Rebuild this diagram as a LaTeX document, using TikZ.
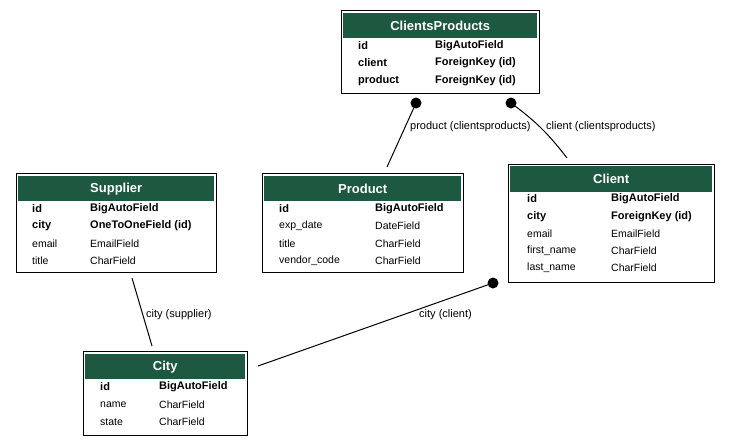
\documentclass[tikz,border=0pt]{standalone}
\usepackage{fontspec}
\setmainfont{Liberation Sans}
\usepackage{tikz}
\usetikzlibrary{
    arrows.meta,
    positioning,
    calc
}
\definecolor{headgreen}{RGB}{29,88,64}

\begin{document}
\begin{tikzpicture}[
    x=1pt,y=-1pt,
    font=\fontsize{10.5}{12}\selectfont,
    table/.style={draw=black,line width=1.2pt,fill=white,anchor=north west,inner sep=0pt},
    head/.style={fill=headgreen,text=white,anchor=north west,inner sep=0pt,font=\fontsize{13}{15}\selectfont\bfseries},
    field/.style={anchor=west,inner sep=0pt},
    key/.style={field,font=\fontsize{11}{13}\selectfont\bfseries},
    dot/.style={circle,fill=black,minimum size=11pt,inner sep=0pt},
    link/.style={line width=1pt},
    link label/.style={anchor=west,inner sep=0pt,font=\fontsize{11}{13}\selectfont}
]
    \useasboundingbox (0,0) rectangle (731,445);

    % ClientsProducts
    \node[table,minimum width=198pt,minimum height=83pt] (cp) at (341,10) {};
    \node[head,minimum width=194pt,minimum height=25pt] (cphead) at (343,13) {ClientsProducts};
    \node[key] (cpid) at (358,46) {id};
    \node[key] (cpidt) at (435,46) {BigAutoField};
    \node[key] (cpcl) at (358,63) {client};
    \node[key] (cpclt) at (435,63) {ForeignKey (id)};
    \node[key] (cppr) at (358,81) {product};
    \node[key] (cpprt) at (435,81) {ForeignKey (id)};

    % Supplier
    \node[table,minimum width=200pt,minimum height=99pt] (supplier) at (16,173) {};
    \node[head,minimum width=196pt,minimum height=25pt] (suphead) at (18,176) {Supplier};
    \node[key] (supid) at (32,209) {id};
    \node[key] (supidt) at (90,209) {BigAutoField};
    \node[key] (supcity) at (32,226) {city};
    \node[key] (supcityt) at (90,226) {OneToOneField (id)};
    \node[field] (supmail) at (32,244) {email};
    \node[field] (supmailt) at (90,244) {EmailField};
    \node[field] (suptitle) at (32,261) {title};
    \node[field] (suptitlet) at (90,261) {CharField};

    % Product
    \node[table,minimum width=201pt,minimum height=99pt] (product) at (262,173) {};
    \node[head,minimum width=197pt,minimum height=25pt] (prodhead) at (264,176) {Product};
    \node[key] (prodid) at (279,209) {id};
    \node[key] (prodidt) at (375,209) {BigAutoField};
    \node[field] (prodexp) at (279,226) {exp\_date};
    \node[field] (prodexpt) at (375,226) {DateField};
    \node[field] (prodtitle) at (279,244) {title};
    \node[field] (prodtitlet) at (375,244) {CharField};
    \node[field] (prodvc) at (279,261) {vendor\_code};
    \node[field] (prodvct) at (375,261) {CharField};

    % Client
    \node[table,minimum width=206pt,minimum height=118pt] (client) at (508,164) {};
    \node[head,minimum width=202pt,minimum height=26pt] (clhead) at (510,166) {Client};
    \node[key] (clid) at (527,199) {id};
    \node[key] (clidt) at (611,199) {BigAutoField};
    \node[key] (clcity) at (527,217) {city};
    \node[key] (clcityt) at (611,217) {ForeignKey (id)};
    \node[field] (clmail) at (527,234) {email};
    \node[field] (clmailt) at (611,234) {EmailField};
    \node[field] (clfirst) at (527,251) {first\_name};
    \node[field] (clfirstt) at (611,251) {CharField};
    \node[field] (cllast) at (527,268) {last\_name};
    \node[field] (cllastt) at (611,268) {CharField};

    % City
    \node[table,minimum width=164pt,minimum height=84pt] (city) at (83,351) {};
    \node[head,minimum width=160pt,minimum height=25pt] (cityhead) at (85,354) {City};
    \node[key] (cityid) at (100,387) {id};
    \node[key] (cityidt) at (159,387) {BigAutoField};
    \node[field] (cityname) at (100,405) {name};
    \node[field] (citynamet) at (159,405) {CharField};
    \node[field] (citystate) at (100,422) {state};
    \node[field] (citystatet) at (159,422) {CharField};

    % Relations
    \node[dot] (cpdotp) at (416,103) {};
    \node[dot] (cpdotc) at (511,103) {};
    \node[dot] (cldot) at (493,283) {};
    \coordinate (prodin) at (387,167);
    \coordinate (clin) at (567,158);
    \coordinate (supout) at (132,278);
    \coordinate (cityin) at (152,346);
    \coordinate (cityside) at (258,366);

    \draw[link] (cpdotp.center) -- (prodin);
    \draw[link] (cpdotc.center) to[bend left=8] (clin);
    \draw[link] (supout) -- (cityin);
    \draw[link] (cldot.center) -- (cityside);

    \node[link label] (lbprod) at (410,127) {product (clientsproducts)};
    \node[link label] (lbcl) at (546,127) {client (clientsproducts)};
    \node[link label] (lbsup) at (146,315) {city (supplier)};
    \node[link label] (lbcity) at (419,315) {city (client)};
\end{tikzpicture}
\end{document}
